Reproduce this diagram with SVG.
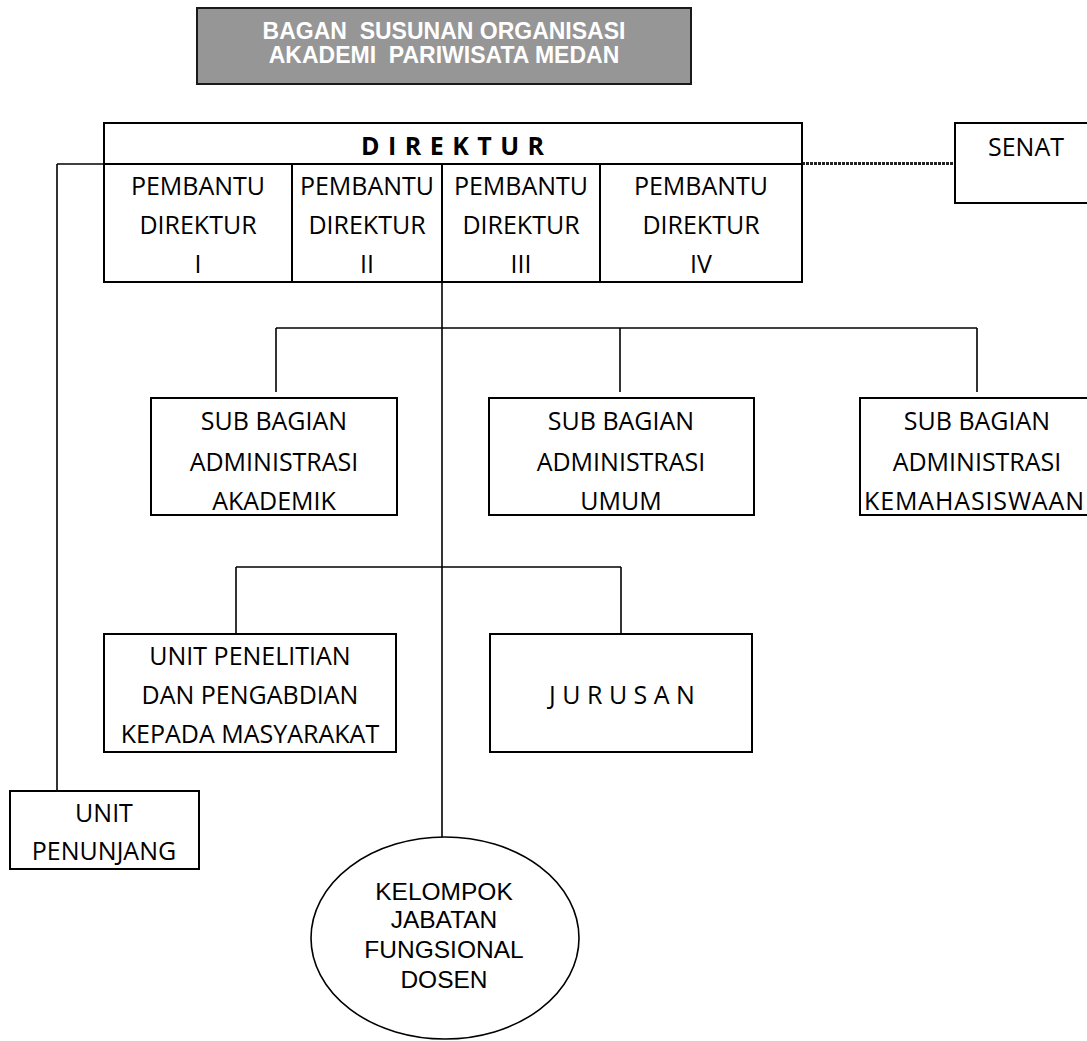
<svg xmlns="http://www.w3.org/2000/svg" width="1087" height="1041" viewBox="0 0 1087 1041">
<style>
.box{fill:#fff;stroke:#000;stroke-width:2}
.t{font-family:"Open Sans","Liberation Sans",sans-serif;font-size:25px;fill:#000;text-anchor:middle}
.a{font-family:"Liberation Sans",Arial,sans-serif;font-size:24.5px;fill:#000;text-anchor:middle}
.h{font-family:"Liberation Sans",Arial,sans-serif;font-weight:bold;font-size:23px;fill:#fff;text-anchor:middle}
.c{fill:none;stroke:#000;stroke-width:1.6}
</style>
<rect width="1087" height="1041" fill="#fff"/>
<g id="title">
<rect x="197" y="8" width="494" height="76" fill="#969696" stroke="#1a1a1a" stroke-width="2"/>
<text class="h" x="444" y="39" xml:space="preserve">BAGAN  SUSUNAN ORGANISASI</text>
<text class="h" x="444" y="63" xml:space="preserve">AKADEMI  PARIWISATA MEDAN</text>
</g>
<g id="connectors">
<line class="c" x1="57" y1="164" x2="104" y2="164"/>
<line class="c" x1="57" y1="164" x2="57" y2="791"/>
<line class="c" x1="442" y1="282" x2="442" y2="838"/>
<line class="c" x1="276" y1="328" x2="977" y2="328"/>
<line class="c" x1="276" y1="328" x2="276" y2="392"/>
<line class="c" x1="620" y1="328" x2="620" y2="392"/>
<line class="c" x1="977" y1="328" x2="977" y2="392"/>
<line class="c" x1="236" y1="567" x2="621" y2="567"/>
<line class="c" x1="236" y1="567" x2="236" y2="634"/>
<line class="c" x1="621" y1="567" x2="621" y2="634"/>
<line x1="802" y1="163.5" x2="955" y2="163.5" stroke="#222" stroke-width="3" stroke-dasharray="3 1"/>
</g>
<g id="direktur">
<rect class="box" x="104" y="123" width="698" height="159"/>
<line x1="104" y1="164" x2="802" y2="164" stroke="#000" stroke-width="2"/>
<text class="t" x="453" y="155" font-weight="bold" letter-spacing="1" xml:space="preserve">D I R E K T U R</text>
</g>
<g id="pd1">
<text class="t" x="198" y="195">PEMBANTU</text>
<text class="t" x="198" y="234">DIREKTUR</text>
<text class="t" x="198" y="273">I</text>
</g>
<g id="pd2">
<line x1="292" y1="164" x2="292" y2="282" stroke="#000" stroke-width="2"/>
<text class="t" x="367" y="195">PEMBANTU</text>
<text class="t" x="367" y="234">DIREKTUR</text>
<text class="t" x="367" y="273">II</text>
</g>
<g id="pd3">
<line x1="442" y1="164" x2="442" y2="282" stroke="#000" stroke-width="2"/>
<text class="t" x="521" y="195">PEMBANTU</text>
<text class="t" x="521" y="234">DIREKTUR</text>
<text class="t" x="521" y="273">III</text>
</g>
<g id="pd4">
<line x1="600" y1="164" x2="600" y2="282" stroke="#000" stroke-width="2"/>
<text class="t" x="701" y="195">PEMBANTU</text>
<text class="t" x="701" y="234">DIREKTUR</text>
<text class="t" x="701" y="273">IV</text>
</g>
<g id="senat">
<rect class="box" x="955" y="123" width="140" height="80"/>
<text class="t" x="1026" y="156">SENAT</text>
</g>
<g id="sub-akademik">
<rect class="box" x="151" y="398" width="246" height="117"/>
<text class="t" x="274" y="430">SUB BAGIAN</text>
<text class="t" x="274" y="471">ADMINISTRASI</text>
<text class="t" x="274" y="510">AKADEMIK</text>
</g>
<g id="sub-umum">
<rect class="box" x="489" y="398" width="265" height="117"/>
<text class="t" x="621" y="430">SUB BAGIAN</text>
<text class="t" x="621" y="471">ADMINISTRASI</text>
<text class="t" x="621" y="510">UMUM</text>
</g>
<g id="sub-kemahasiswaan">
<rect class="box" x="860" y="398" width="240" height="117"/>
<text class="t" x="977" y="430">SUB BAGIAN</text>
<text class="t" x="977" y="471">ADMINISTRASI</text>
<text class="t" x="974" y="510" textLength="220" lengthAdjust="spacing">KEMAHASISWAAN</text>
</g>
<g id="unit-penelitian">
<rect class="box" x="104" y="634" width="292" height="118"/>
<text class="t" x="250" y="665">UNIT PENELITIAN</text>
<text class="t" x="250" y="704">DAN PENGABDIAN</text>
<text class="t" x="250" y="743">KEPADA MASYARAKAT</text>
</g>
<g id="jurusan">
<rect class="box" x="490" y="634" width="262" height="118"/>
<text class="t" x="622" y="704" xml:space="preserve">J U R U S A N</text>
</g>
<g id="unit-penunjang">
<rect class="box" x="10" y="791" width="189" height="78"/>
<text class="t" x="104" y="822">UNIT</text>
<text class="t" x="104" y="860">PENUNJANG</text>
</g>
<g id="kelompok">
<ellipse cx="445" cy="938" rx="134" ry="101" fill="#fff" stroke="#000" stroke-width="1.6"/>
<text class="a" x="444" y="900">KELOMPOK</text>
<text class="a" x="444" y="928">JABATAN</text>
<text class="a" x="444" y="958">FUNGSIONAL</text>
<text class="a" x="444" y="988">DOSEN</text>
</g>
</svg>
